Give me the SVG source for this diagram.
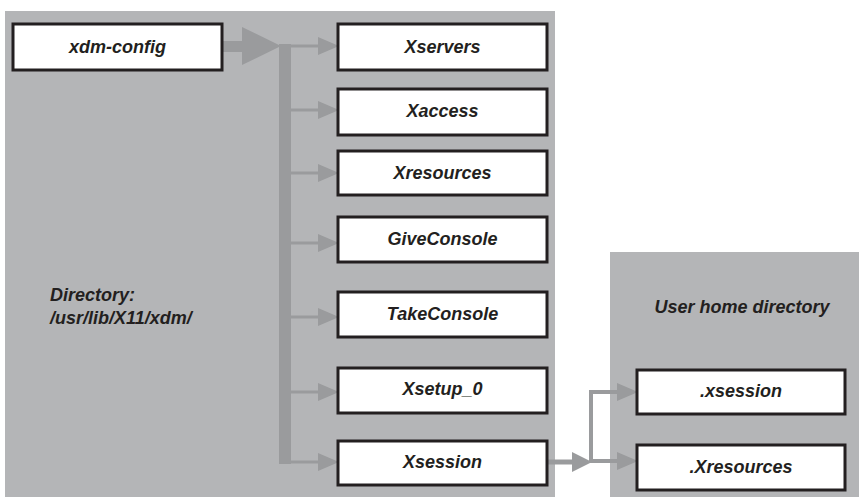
<svg xmlns="http://www.w3.org/2000/svg" width="859" height="497" viewBox="0 0 859 497">
<style>
.panel{fill:#b4b5b7}
.box{fill:#ffffff;stroke:#231f20;stroke-width:3}
.t{font-family:"Liberation Sans",Arial,sans-serif;font-weight:bold;font-style:italic;font-size:18px;fill:#231f20}
.c{text-anchor:middle}
.ln{stroke:#9a9b9d;fill:none}
.hd{fill:#9a9b9d}
</style>
<rect class="panel" x="5" y="11" width="550" height="486"/>
<rect class="panel" x="610" y="252" width="249" height="245"/>
<text class="t" x="50" y="301">Directory:</text>
<text class="t" x="50" y="324">/usr/lib/X11/xdm/</text>
<text class="t c" x="742" y="313">User home directory</text>
<g id="connectors">
<rect class="hd" x="222" y="41" width="22" height="11"/>
<polygon class="hd" points="242,27 281,46 242,65"/>
<rect class="hd" x="279" y="44" width="12" height="420"/>
<g class="ln" stroke-width="3">
<line x1="291" y1="46" x2="320" y2="46"/>
<line x1="291" y1="110" x2="320" y2="110"/>
<line x1="291" y1="173" x2="320" y2="173"/>
<line x1="291" y1="243" x2="320" y2="243"/>
<line x1="291" y1="317" x2="320" y2="317"/>
<line x1="291" y1="392" x2="320" y2="392"/>
<line x1="291" y1="462" x2="320" y2="462"/>
</g>
<g class="hd">
<polygon points="318,37 339,46 318,55"/>
<polygon points="318,101 339,110 318,119"/>
<polygon points="318,164 339,173 318,182"/>
<polygon points="318,234 339,243 318,252"/>
<polygon points="318,308 339,317 318,326"/>
<polygon points="318,383 339,392 318,401"/>
<polygon points="318,453 339,462 318,471"/>
</g>
<line class="ln" stroke-width="5" x1="547" y1="462" x2="574" y2="462"/>
<polygon class="hd" points="572,452 592,462 572,472"/>
<polyline class="ln" stroke-width="4" points="619,392 591,392 591,461 619,461"/>
<polygon class="hd" points="617,383 638,392 617,401"/>
<polygon class="hd" points="617,452 638,461 617,470"/>
</g>
<g id="xdm-config"><rect class="box" x="13" y="24" width="209" height="46"/><text class="t c" x="117.5" y="53">xdm-config</text></g>
<g id="Xservers"><rect class="box" x="338" y="24" width="209" height="46"/><text class="t c" x="442.5" y="53">Xservers</text></g>
<g id="Xaccess"><rect class="box" x="338" y="89" width="209" height="46"/><text class="t c" x="442.5" y="117">Xaccess</text></g>
<g id="Xresources"><rect class="box" x="338" y="151" width="209" height="44"/><text class="t c" x="442.5" y="179">Xresources</text></g>
<g id="GiveConsole"><rect class="box" x="338" y="217" width="209" height="45"/><text class="t c" x="442.5" y="245">GiveConsole</text></g>
<g id="TakeConsole"><rect class="box" x="338" y="292" width="209" height="45"/><text class="t c" x="442.5" y="320">TakeConsole</text></g>
<g id="Xsetup_0"><rect class="box" x="338" y="368" width="209" height="45"/><text class="t c" x="442.5" y="395">Xsetup_0</text></g>
<g id="Xsession"><rect class="box" x="338" y="441" width="209" height="44"/><text class="t c" x="442.5" y="468">Xsession</text></g>
<g id="dot-xsession"><rect class="box" x="637" y="370" width="208" height="44"/><text class="t c" x="741" y="397">.xsession</text></g>
<g id="dot-Xresources"><rect class="box" x="637" y="445" width="208" height="45"/><text class="t c" x="741" y="473">.Xresources</text></g>
</svg>
